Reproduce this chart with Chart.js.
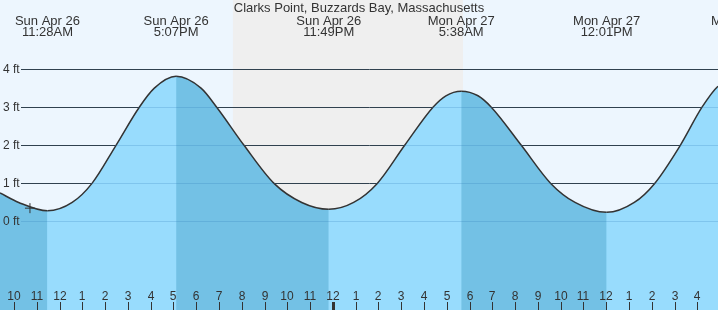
<!DOCTYPE html>
<html>
<head>
<meta charset="utf-8">
<script src="https://cdn.jsdelivr.net/npm/chart.js@4/dist/chart.umd.min.js"></script>
<style>
  html, body { margin: 0; padding: 0; background: #edf6fe; }
  canvas { display: block; }
</style>
</head>
<body>
<canvas id="tideChart" width="718" height="310"></canvas>
<script>
// hours counted from Sun Apr 26 00:00
const TIDE_HOURS = [9.385, 10.206, 11.467, 12.555, 13.424, 14.478, 15.50, 16.16, 17.117, 18.21, 18.898,
  20.097, 21.414, 22.63, 23.817, 24.91, 25.948, 27.151, 28.393, 28.96, 29.633, 30.37, 30.953,
  32.270, 33.561, 34.63, 36.017, 37.23, 38.126, 39.250, 40.203, 40.905, 42.07];
const TIDE_FEET = [0.75, 0.5, 0.28, 0.5, 1.0, 2.0, 3.0, 3.5, 3.81, 3.5, 3.0,
  2.0, 1.0, 0.5, 0.32, 0.5, 1.0, 2.0, 3.0, 3.3, 3.42, 3.3, 3.0,
  2.0, 1.0, 0.5, 0.24, 0.5, 1.0, 2.0, 3.0, 3.55, 3.85];

const EVENT_HOURS = [11.467, 17.117, 23.817, 29.633, 36.017, 42.07];
const EVENT_DAYS = ['Sun Apr 26', 'Sun Apr 26', 'Sun Apr 26', 'Mon Apr 27', 'Mon Apr 27', 'Mon Apr 27'];
const EVENT_TIMES = ['11:28AM', '5:07PM', '11:49PM', '5:38AM', '12:01PM', '6:04PM'];

const NOW_HOUR = [10.70];
const NOW_FEET = [0.35];

const NIGHT = [19.61, 29.71];

const Y_TICKS = [0, 1, 2, 3, 4];
const HOUR_TICKS = [10, 11, 12, 13, 14, 15, 16, 17, 18, 19, 20, 21, 22, 23, 24, 25, 26, 27, 28, 29, 30,
  31, 32, 33, 34, 35, 36, 37, 38, 39, 40];
const HOUR_LABELS = ['10', '11', '12', '1', '2', '3', '4', '5', '6', '7', '8', '9', '10', '11', '12', '1',
  '2', '3', '4', '5', '6', '7', '8', '9', '10', '11', '12', '1', '2', '3', '4'];
const MIDNIGHT = 24;

const TITLE = 'Clarks Point, Buzzards Bay, Massachusetts';

const FONT = '"Liberation Sans", Arial, sans-serif';
const TEXT = '#333333';
const SKY = '#edf6fe';
const NIGHT_SKY = '#efefef';
const WATER = '#98dcfd';
const WATER_FALLING = '#73c1e5';

const tidePoints = () => TIDE_HOURS.map((h, i) => ({ x: h, y: TIDE_FEET[i] }));

const tideDecor = {
  id: 'tideDecor',
  beforeDraw(chart) {
    const { ctx, chartArea: a, scales: { x } } = chart;
    ctx.save();
    ctx.fillStyle = SKY;
    ctx.fillRect(0, 0, chart.width, chart.height);
    ctx.fillStyle = NIGHT_SKY;
    const n0 = x.getPixelForValue(NIGHT[0]);
    const n1 = x.getPixelForValue(NIGHT[1]);
    ctx.fillRect(n0, a.top, n1 - n0, a.bottom - a.top);
    ctx.restore();
  },
  beforeDatasetsDraw(chart) {
    const { ctx, chartArea: a, scales: { y } } = chart;
    ctx.save();
    ctx.strokeStyle = '#333333';
    ctx.lineWidth = 1;
    Y_TICKS.forEach(v => {
      const py = Math.round(y.getPixelForValue(v)) + 0.5;
      ctx.beginPath();
      ctx.moveTo(21, py);
      ctx.lineTo(a.right, py);
      ctx.stroke();
    });
    ctx.restore();
  },
  afterDatasetsDraw(chart) {
    const { ctx, chartArea: a, scales: { x, y } } = chart;
    ctx.save();
    // faint grid showing through the water
    ctx.strokeStyle = 'rgba(40, 120, 180, 0.22)';
    ctx.lineWidth = 1;
    Y_TICKS.forEach(v => {
      const py = Math.round(y.getPixelForValue(v)) + 0.5;
      ctx.beginPath();
      ctx.moveTo(21, py);
      ctx.lineTo(a.right, py);
      ctx.stroke();
    });

    ctx.fillStyle = TEXT;
    ctx.font = '12px ' + FONT;
    ctx.textAlign = 'left';
    ctx.textBaseline = 'alphabetic';
    Y_TICKS.forEach(v => {
      ctx.fillText(v + ' ft', 3, Math.round(y.getPixelForValue(v)) + 4);
    });

    // hour ticks along the bottom
    ctx.textAlign = 'center';
    HOUR_TICKS.forEach((h, i) => {
      const px = Math.round(x.getPixelForValue(h));
      ctx.fillText(HOUR_LABELS[i], px, 300);
      const w = h === MIDNIGHT ? 3 : 1;
      ctx.fillRect(px - Math.floor(w / 2), 302, w, a.bottom - 302);
    });

    // title and tide event labels
    ctx.font = '13px ' + FONT;
    ctx.fillText(TITLE, chart.width / 2, 12);
    EVENT_HOURS.forEach((h, i) => {
      const px = x.getPixelForValue(h);
      ctx.fillText(EVENT_DAYS[i], px, 25);
      ctx.fillText(EVENT_TIMES[i], px, 36);
    });
    ctx.restore();
  }
};

new Chart(document.getElementById('tideChart'), {
  type: 'line',
  data: {
    datasets: [
      {
        data: NOW_HOUR.map((h, i) => ({ x: h, y: NOW_FEET[i] })),
        showLine: false,
        pointStyle: 'cross',
        pointRadius: 5,
        borderColor: '#333333',
        borderWidth: 1,
        fill: false
      },
      {
        // falling tide drawn darker, rising tide lighter
        data: tidePoints(),
        borderColor: '#333333',
        borderWidth: 1.5,
        backgroundColor: WATER,
        fill: 'start',
        pointRadius: 0,
        cubicInterpolationMode: 'monotone',
        segment: {
          backgroundColor: c => (c.p1.parsed.y < c.p0.parsed.y ? WATER_FALLING : WATER)
        }
      },
      {
        // plain water underneath, hides seams between the segment fills
        data: tidePoints(),
        borderWidth: 0,
        backgroundColor: WATER,
        fill: 'start',
        pointRadius: 0,
        cubicInterpolationMode: 'monotone'
      }
    ]
  },
  options: {
    responsive: false,
    animation: false,
    devicePixelRatio: 1,
    layout: { padding: 0, autoPadding: false },
    plugins: {
      legend: { display: false },
      tooltip: { enabled: false },
      title: { display: false }
    },
    scales: {
      x: { type: 'linear', min: 9.385, max: 40.905, display: false },
      y: { type: 'linear', min: -2.323, max: 5.814, display: false }
    }
  },
  plugins: [tideDecor]
});
</script>
</body>
</html>
